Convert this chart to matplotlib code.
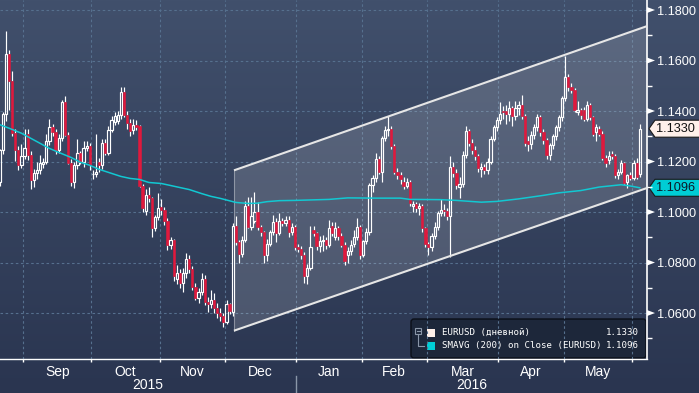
import numpy as np
import matplotlib
matplotlib.use('Agg')
import matplotlib.pyplot as plt
from matplotlib.patches import Rectangle, Polygon, FancyBboxPatch
from matplotlib.transforms import Affine2D
from matplotlib.lines import Line2D
from matplotlib import font_manager

# ---------------- data (trading-day index 0 = 20 Aug 2015 ... 206 = 3 Jun 2016) -------------
opens = [1.1117,1.1245,1.1387,1.1625,1.1518,1.1312,1.1245,1.1185,1.1222,1.1310,
         1.1225,1.1125,1.1155,1.1165,1.1190,1.1200,1.1280,1.1335,1.1315,1.1245,
         1.1293,1.1435,1.1305,1.1195,1.1117,1.1185,1.1232,1.1198,1.1252,1.1262,
         1.1150,1.1152,1.1200,1.1185,1.1275,1.1235,1.1325,1.1355,1.1360,1.1383,
         1.1475,1.1385,1.1352,1.1325,1.1345,1.1340,1.1105,1.1006,1.1066,1.1055,
         1.0935,1.0980,1.1020,1.1010,1.0965,1.0870,1.0890,1.0735,1.0760,1.0720,
         1.0760,1.0815,1.0775,1.0705,1.0660,1.0685,1.0735,1.0645,1.0635,1.0650,
         1.0620,1.0600,1.0590,1.0565,1.0635,1.0605,1.0945,1.0880,1.0835,1.0890,
         1.1025,1.0940,1.0965,1.1000,1.0940,1.0920,1.0828,1.0875,1.0920,1.0960,
         1.0918,1.0965,1.0955,1.0970,1.0920,1.0940,1.0860,1.0855,1.0830,1.0748,
         1.0780,1.0930,1.0915,1.0865,1.0885,1.0890,1.0870,1.0945,1.0900,1.0935,
         1.0905,1.0870,1.0830,1.0845,1.0875,1.0900,1.0940,1.0830,1.0885,1.0920,
         1.1107,1.1135,1.1210,1.1158,1.1292,1.1325,1.1330,1.1262,1.1158,1.1145,
         1.1120,1.1105,1.1118,1.1025,1.1030,1.1015,1.1025,1.0935,1.0875,1.0860,
         1.0905,1.0940,1.0995,1.1007,1.1005,1.0985,1.1180,1.1155,1.1100,1.1112,
         1.1225,1.1320,1.1275,1.1245,1.1220,1.1170,1.1180,1.1165,1.1200,1.1290,
         1.1335,1.1365,1.1400,1.1400,1.1390,1.1410,1.1380,1.1410,1.1425,1.1380,
         1.1280,1.1270,1.1305,1.1335,1.1375,1.1315,1.1285,1.1225,1.1265,1.1300,
         1.1335,1.1375,1.1450,1.1535,1.1495,1.1485,1.1395,1.1405,1.1405,1.1370,
         1.1425,1.1375,1.1315,1.1330,1.1310,1.1215,1.1205,1.1228,1.1220,1.1145,
         1.1160,1.1195,1.1118,1.1145,1.1135,1.1195,1.1150]
highs = [1.1250,1.1395,1.1717,1.1640,1.1560,1.1330,1.1260,1.1270,1.1330,1.1330,
         1.1240,1.1170,1.1200,1.1225,1.1215,1.1310,1.1370,1.1350,1.1330,1.1310,
         1.1445,1.1460,1.1315,1.1210,1.1200,1.1290,1.1240,1.1280,1.1280,1.1275,
         1.1165,1.1310,1.1215,1.1290,1.1290,1.1340,1.1380,1.1395,1.1400,1.1495,
         1.1495,1.1400,1.1370,1.1370,1.1365,1.1345,1.1110,1.1090,1.1100,1.1060,
         1.0990,1.1075,1.1050,1.1020,1.0975,1.0900,1.0895,1.0790,1.0775,1.0780,
         1.0837,1.0830,1.0785,1.0720,1.0700,1.0760,1.0750,1.0665,1.0690,1.0680,
         1.0640,1.0620,1.0600,1.0650,1.0640,1.0955,1.0985,1.0890,1.0905,1.1045,
         1.1060,1.1060,1.1080,1.1040,1.0950,1.0925,1.0895,1.0930,1.0990,1.0975,
         1.0995,1.0975,1.0985,1.0985,1.0955,1.0950,1.0875,1.0865,1.0840,1.0795,
         1.0945,1.0945,1.0920,1.0905,1.0910,1.0900,1.0970,1.0960,1.0960,1.0945,
         1.0915,1.0880,1.0860,1.0890,1.0930,1.0975,1.0950,1.0890,1.0935,1.1115,
         1.1145,1.1235,1.1220,1.1300,1.1340,1.1380,1.1340,1.1270,1.1175,1.1160,
         1.1140,1.1135,1.1125,1.1045,1.1040,1.1035,1.1030,1.0940,1.0880,1.0915,
         1.0960,1.1005,1.1050,1.1030,1.1015,1.1220,1.1200,1.1170,1.1140,1.1240,
         1.1342,1.1330,1.1290,1.1260,1.1230,1.1195,1.1190,1.1215,1.1300,1.1345,
         1.1375,1.1435,1.1420,1.1425,1.1440,1.1420,1.1440,1.1440,1.1465,1.1390,
         1.1300,1.1320,1.1350,1.1390,1.1385,1.1330,1.1295,1.1275,1.1310,1.1345,
         1.1385,1.1460,1.1617,1.1545,1.1510,1.1490,1.1440,1.1410,1.1415,1.1440,
         1.1430,1.1380,1.1350,1.1340,1.1320,1.1225,1.1240,1.1240,1.1230,1.1170,
         1.1205,1.1200,1.1150,1.1160,1.1205,1.1215,1.1350]
lows = [1.1105,1.1230,1.1360,1.1403,1.1300,1.1204,1.1165,1.1175,1.1210,1.1205,
        1.1090,1.1100,1.1130,1.1150,1.1175,1.1190,1.1265,1.1300,1.1230,1.1235,
        1.1280,1.1300,1.1190,1.1105,1.1095,1.1170,1.1190,1.1180,1.1240,1.1165,
        1.1130,1.1140,1.1160,1.1170,1.1225,1.1225,1.1315,1.1345,1.1350,1.1370,
        1.1375,1.1330,1.1300,1.1310,1.1325,1.1100,1.1000,1.0990,1.1040,1.0900,
        1.0925,1.0970,1.0990,1.0950,1.0850,1.0855,1.0725,1.0715,1.0700,1.0685,
        1.0740,1.0760,1.0690,1.0650,1.0640,1.0670,1.0630,1.0605,1.0620,1.0600,
        1.0580,1.0570,1.0545,1.0555,1.0595,1.0590,1.0870,1.0800,1.0820,1.0880,
        1.0935,1.0930,1.0955,1.0930,1.0905,1.0800,1.0805,1.0865,1.0910,1.0880,
        1.0910,1.0945,1.0945,1.0900,1.0910,1.0850,1.0840,1.0815,1.0720,1.0715,
        1.0770,1.0905,1.0850,1.0840,1.0845,1.0855,1.0860,1.0905,1.0890,1.0890,
        1.0860,1.0790,1.0800,1.0830,1.0860,1.0890,1.0815,1.0820,1.0875,1.0910,
        1.1080,1.1120,1.1150,1.1120,1.1280,1.1300,1.1250,1.1150,1.1130,1.1110,
        1.1090,1.1095,1.1025,1.1000,1.1000,1.0990,1.0920,1.0860,1.0830,1.0845,
        1.0895,1.0930,1.0985,1.0985,1.0970,1.0820,1.1140,1.1090,1.1055,1.1100,
        1.1215,1.1260,1.1230,1.1205,1.1160,1.1140,1.1150,1.1150,1.1190,1.1280,
        1.1320,1.1350,1.1370,1.1350,1.1360,1.1340,1.1365,1.1385,1.1370,1.1260,
        1.1240,1.1250,1.1290,1.1320,1.1300,1.1270,1.1210,1.1205,1.1250,1.1285,
        1.1320,1.1360,1.1440,1.1480,1.1470,1.1395,1.1385,1.1370,1.1360,1.1360,
        1.1365,1.1300,1.1280,1.1300,1.1205,1.1180,1.1190,1.1210,1.1135,1.1130,
        1.1150,1.1110,1.1095,1.1125,1.1125,1.1130,1.1140]
closes = [1.1245,1.1387,1.1625,1.1518,1.1312,1.1245,1.1185,1.1222,1.1255,1.1225,
          1.1125,1.1155,1.1165,1.1195,1.1200,1.1280,1.1335,1.1315,1.1245,1.1293,
          1.1435,1.1305,1.1195,1.1117,1.1185,1.1232,1.1198,1.1252,1.1262,1.1185,
          1.1152,1.1160,1.1185,1.1275,1.1235,1.1325,1.1365,1.1380,1.1383,1.1475,
          1.1385,1.1352,1.1320,1.1343,1.1335,1.1105,1.1015,1.1066,1.1055,1.0935,
          1.0980,1.1015,1.1010,1.0965,1.0870,1.0890,1.0745,1.0760,1.0720,1.0760,
          1.0815,1.0775,1.0705,1.0660,1.0685,1.0735,1.0645,1.0635,1.0650,1.0620,
          1.0600,1.0590,1.0565,1.0635,1.0610,1.0945,1.0880,1.0835,1.0890,1.1025,
          1.0940,1.0985,1.1000,1.0940,1.0920,1.0828,1.0875,1.0920,1.0960,1.0918,
          1.0965,1.0955,1.0970,1.0920,1.0940,1.0860,1.0855,1.0830,1.0748,1.0780,
          1.0860,1.0915,1.0865,1.0885,1.0890,1.0870,1.0935,1.0918,1.0935,1.0905,
          1.0870,1.0808,1.0845,1.0870,1.0900,1.0940,1.0830,1.0885,1.0920,1.1107,
          1.1135,1.1210,1.1158,1.1292,1.1325,1.1330,1.1262,1.1158,1.1145,1.1130,
          1.1105,1.1118,1.1035,1.1030,1.1015,1.1025,1.0935,1.0875,1.0860,1.0905,
          1.0940,1.0995,1.1007,1.1005,1.0985,1.1180,1.1155,1.1107,1.1112,1.1225,
          1.1320,1.1275,1.1245,1.1220,1.1175,1.1180,1.1165,1.1200,1.1290,1.1335,
          1.1365,1.1390,1.1395,1.1390,1.1410,1.1380,1.1410,1.1425,1.1380,1.1275,
          1.1270,1.1305,1.1335,1.1375,1.1315,1.1285,1.1225,1.1265,1.1300,1.1335,
          1.1375,1.1450,1.1535,1.1495,1.1485,1.1405,1.1405,1.1385,1.1370,1.1425,
          1.1375,1.1310,1.1335,1.1310,1.1215,1.1195,1.1222,1.1220,1.1145,1.1160,
          1.1195,1.1115,1.1145,1.1135,1.1195,1.1140,1.1330]

# 200-day simple moving average, read at selected trading days
sma_idx = [0,3,7,10,13,16,19,23,26,29,32,36,39,42,45,48,52,55,58,61,65,68,71,76,80,83,86,90,
           95,106,112,121,129,132,142,147,155,160,167,175,180,187,193,200,203,206]
sma_vals = [1.1346,1.1332,1.1312,1.1292,1.1272,1.1252,1.1236,1.1216,1.1197,1.1185,1.1169,
            1.1153,1.1141,1.1133,1.1129,1.1117,1.1113,1.1105,1.1097,1.1089,1.1073,1.1062,
            1.1054,1.1038,1.1034,1.1035,1.1041,1.1045,1.1046,1.1050,1.1056,1.1055,1.1055,
            1.1050,1.1049,1.1046,1.1039,1.1042,1.1052,1.1066,1.1076,1.1085,1.1099,1.1108,
            1.1103,1.1096]

# first trading day of each month (index) and labels
month_starts = [8, 30, 52, 73, 96, 117, 138, 161, 182, 204]
month_labels = ['Sep', 'Oct', 'Nov', 'Dec', 'Jan', 'Feb', 'Mar', 'Apr', 'May']
year_labels = ['2015', '2016']
year_break = 96

# hand-drawn trend channel (index, price)
channel_x = [75.4, 208.3]
channel_upper = [1.1165, 1.1736]
channel_lower = [1.0530, 1.1095]

y_major = [1.06, 1.08, 1.10, 1.12, 1.14, 1.16, 1.18]
y_minor = [1.05, 1.07, 1.09, 1.11, 1.13, 1.15, 1.17]

legend_names = ['EURUSD (дневной)', 'SMAVG (200) on Close (EURUSD)']
last_close = closes[-1]
last_sma = sma_vals[-1]

# ---------------- style ----------------
names = {f.name for f in font_manager.fontManager.ttflist}
NARROW = 'Liberation Sans Narrow' in names
LAB = 'Liberation Sans Narrow' if NARROW else 'Liberation Sans'
RFS = 10.5 if NARROW else 9.2          # right-axis label size
MONO = 'DejaVu Sans Mono'
RED = '#e0193d'
CYAN = '#12c8d2'
GRID = '#56708e'
W, H = 699, 393

fig = plt.figure(figsize=(W / 100, H / 100), dpi=100)
pixT = Affine2D().scale(1, -1).translate(0, H)   # pixel coords, origin top-left

# background gradient
bg = fig.add_axes([0, 0, 1, 1])
top = np.array([0x41, 0x50, 0x6c]) / 255
bot = np.array([0x2a, 0x35, 0x50]) / 255
t = np.linspace(0, 1, 256)[:, None, None]
grad = top * (1 - t) + bot * t
bg.imshow(grad, aspect='auto', extent=[0, 1, 0, 1], interpolation='bilinear')
bg.set_axis_off()
bg.set_zorder(0)

ax = fig.add_axes([0, 34 / H, 647 / W, 1 - 34 / H])
ax.set_zorder(1)
ax.patch.set_alpha(0)
ax.set_xlim(0.097, 208.33)
ax.set_ylim(1.0418, 1.18396)

# grid
ax.set_xticks([m - 0.5 for m in month_starts])
ax.set_yticks(y_major)
ax.set_yticks(y_minor, minor=True)
ax.grid(True, which='major', color=GRID, linestyle=(0, (2.3, 2.3)), linewidth=0.8)
ax.set_axisbelow(True)

# channel
cx0, cx1 = channel_x
poly = Polygon([(cx0, channel_lower[0]), (cx0, channel_upper[0]), (cx1, channel_upper[1]),
                (cx1, channel_lower[1])], closed=True, facecolor='white', alpha=0.15,
               edgecolor='none', zorder=1.5)
ax.add_patch(poly)
ax.plot([cx0, cx0], [channel_lower[0], channel_upper[0]], color='white', alpha=0.35, lw=0.8, zorder=1.6)
ax.plot(channel_x, channel_upper, color='#e6e6e6', lw=1.5, zorder=4, solid_capstyle='butt')
ax.plot(channel_x, channel_lower, color='#e6e6e6', lw=1.5, zorder=4, solid_capstyle='butt')

# candles
bw = 0.74
for i, (o, h, l, c) in enumerate(zip(opens, highs, lows, closes)):
    btop, bbot = max(o, c), min(o, c)
    if btop - bbot < 0.0003:
        mid = (btop + bbot) / 2
        btop, bbot = mid + 0.00015, mid - 0.00015
    ax.vlines(i, btop, h, color='white', lw=0.85, zorder=2)
    ax.vlines(i, l, bbot, color='white', lw=0.85, zorder=2)
    if c >= o:
        ax.add_patch(Rectangle((i - bw / 2, bbot), bw, btop - bbot, facecolor='none',
                               edgecolor='white', lw=0.85, zorder=3))
    else:
        ax.add_patch(Rectangle((i - bw / 2, bbot), bw, btop - bbot, facecolor=RED,
                               edgecolor=RED, lw=0.4, zorder=3))

# SMA
ax.plot(sma_idx, sma_vals, color=CYAN, lw=1.1, zorder=3.5)

# spines
for s in ['top', 'left']:
    ax.spines[s].set_visible(False)
ax.spines['bottom'].set_color('white')
ax.spines['bottom'].set_linewidth(1.0)
ax.spines['right'].set_color('white')
ax.spines['right'].set_linewidth(1.2)

# x ticks
ax.tick_params(axis='x', which='major', length=2.5, width=1, color='white', direction='out',
               labelbottom=False)
centers = [(month_starts[k] + month_starts[k + 1]) / 2 - 0.5 for k in range(len(month_labels))]
ax.set_xticks(centers, minor=True)
ax.set_xticklabels(month_labels, minor=True)
ax.tick_params(axis='x', which='minor', length=0, pad=4, labelsize=10, labelcolor='white')
for tl in ax.get_xticklabels(minor=True):
    tl.set_family(LAB)

# y ticks on right
ax.yaxis.tick_right()
ax.set_yticklabels(['%.4f' % v for v in y_major])
ax.tick_params(axis='y', which='major', length=0, pad=7.2, labelsize=RFS, labelcolor='white')
ax.tick_params(axis='y', which='minor', length=3.5, width=1, color='white', direction='out')
for tl in ax.get_yticklabels():
    tl.set_family(LAB)


def ypix(p):
    return H - ax.transData.transform((0, p))[1]


def xpix(x):
    return ax.transData.transform((x, 0))[0]


# major tick triangles
ax_right = xpix(208.33)
for v in y_major:
    yp = ypix(v)
    tri = Polygon([(ax_right, yp - 3), (ax_right + 8, yp), (ax_right, yp + 3)], closed=True,
                  facecolor='white', edgecolor='none', transform=pixT)
    fig.add_artist(tri)

# year labels & divider
xb = xpix(year_break - 0.5)
fig.add_artist(Line2D([xb, xb], [376, 393], color='#8a96a8', lw=1, transform=pixT))
fig.text(xb / 2, 385, year_labels[0], transform=pixT, color='white', fontsize=10,
         family=LAB, ha='center', va='center')
fig.text((xb + ax_right) / 2, 385, year_labels[1], transform=pixT, color='white', fontsize=10,
         family=LAB, ha='center', va='center')


# price tags
def tag(p, face, txtcol):
    yp = ypix(p)
    x0 = ax_right + 2
    shape = Polygon([(x0, yp), (x0 + 6, yp - 8.5), (W + 2, yp - 8.5), (W + 2, yp + 8.5),
                     (x0 + 6, yp + 8.5)], closed=True, facecolor=face, edgecolor='#1a1a1a',
                    lw=0.8, transform=pixT)
    fig.add_artist(shape)
    fig.text(x0 + 7, yp, '%.4f' % p, transform=pixT, color=txtcol, fontsize=RFS, family=LAB,
             ha='left', va='center')


tag(last_close, '#fff0ea', '#111111')
tag(last_sma, '#00cdd5', '#0b1a2a')

# legend
box = FancyBboxPatch((411, 319), 235, 39, boxstyle='round,pad=0,rounding_size=3',
                     facecolor='#1d273a', edgecolor='#0b0f18', lw=1, transform=pixT)
fig.add_artist(box)
icol = '#8a96a8'
fig.add_artist(Rectangle((415, 327.5), 6, 6, facecolor='none', edgecolor=icol, lw=0.8, transform=pixT))
fig.add_artist(Line2D([416.5, 419.5], [330.5, 330.5], color=icol, lw=0.8, transform=pixT))
fig.add_artist(Line2D([418, 418, 424], [333.5, 345.5, 345.5], color=icol, lw=0.8, transform=pixT))
fig.add_artist(Rectangle((427, 328.5), 8, 8, facecolor='#fdeee8', edgecolor='none', transform=pixT))
fig.add_artist(Rectangle((427, 341.5), 8, 8, facecolor='#00cdd5', edgecolor='none', transform=pixT))
for row, (nm, val) in enumerate(zip(legend_names, [last_close, last_sma])):
    yy = 332.5 + 13 * row
    fig.text(442, yy, nm, transform=pixT, color='white', fontsize=6.6, family=MONO,
             ha='left', va='center')
    fig.text(639, yy, '%.4f' % val, transform=pixT, color='white', fontsize=6.6, family=MONO,
             ha='right', va='center')

fig.savefig('out.png', dpi=100, facecolor=fig.get_facecolor())
